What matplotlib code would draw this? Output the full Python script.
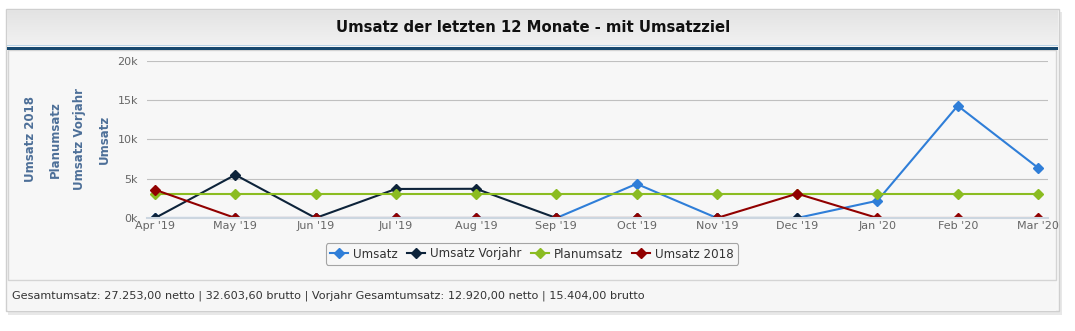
import numpy as np
import matplotlib
matplotlib.use('Agg')
import matplotlib.pyplot as plt
from matplotlib.patches import Rectangle
from matplotlib.lines import Line2D

# data
months = ["Apr '19", "May '19", "Jun '19", "Jul '19", "Aug '19", "Sep '19",
          "Oct '19", "Nov '19", "Dec '19", "Jan '20", "Feb '20", "Mar '20"]
umsatz = [0, 0, 0, 0, 0, 0, 4350, 0, 0, 2200, 14300, 6400]
umsatz_vorjahr = [0, 5500, 0, 3700, 3720, 0, 0, 0, 0, np.nan, np.nan, np.nan]
planumsatz = [3100] * 12
umsatz_2018 = [3600, 0, 0, 0, 0, 0, 0, 0, 3100, 0, 0, 0]
y_ticks = [0, 5000, 10000, 15000, 20000]
y_ticklabels = ['0k', '5k', '10k', '15k', '20k']

title = 'Umsatz der letzten 12 Monate - mit Umsatzziel'
footer = ('Gesamtumsatz: 27.253,00 netto | 32.603,60 brutto | '
          'Vorjahr Gesamtumsatz: 12.920,00 netto | 15.404,00 brutto')

series = [
    ('Umsatz', umsatz, '#2f7ed8'),
    ('Umsatz Vorjahr', umsatz_vorjahr, '#0d233a'),
    ('Planumsatz', planumsatz, '#8bbc21'),
    ('Umsatz 2018', umsatz_2018, '#910000'),
]

W, H = 1075, 331
fig = plt.figure(figsize=(W / 100, H / 100), dpi=100, facecolor='white')


def box(x0, y0, x1, y1):
    # pixel box (top-left origin) -> figure fraction [l, b, w, h]
    return [x0 / W, 1 - y1 / H, (x1 - x0) / W, (y1 - y0) / H]


def rect(x0, y0, x1, y1, **kw):
    l, b, w, h = box(x0, y0, x1, y1)
    fig.patches.append(Rectangle((l, b), w, h, transform=fig.transFigure, **kw))


# panel frame + shadow
rect(8, 12, 1062, 315, facecolor='#e8e8e8', edgecolor='none', zorder=0)
rect(6, 9, 1059, 311, facecolor='#f7f7f7', edgecolor='#cfcfcf', lw=1, zorder=1)

# title bar gradient
tax = fig.add_axes(box(7, 10, 1058, 45), zorder=2)
grad = np.linspace(0, 1, 50).reshape(-1, 1)
tax.imshow(grad, aspect='auto', cmap=matplotlib.colors.LinearSegmentedColormap.from_list(
    'g', ['#e3e3e3', '#f1f1f1']), extent=[0, 1, 0, 1], origin='upper')
tax.set_axis_off()
fig.text(533 / W, 1 - 28 / H, title, ha='center', va='center',
         fontsize=10.7, fontweight='bold', color='#111111', zorder=5)
rect(7, 45, 1058, 46, facecolor='#b8d2e6', edgecolor='none', zorder=3)
rect(7, 46.5, 1058, 50, facecolor='#17486e', edgecolor='none', zorder=3)

# chart area + footer
rect(8, 50, 1056, 280, facecolor='#f7f7f7', edgecolor='#d4d4d4', lw=1, zorder=2)
rect(8, 282, 1056, 311, facecolor='#f6f6f6', edgecolor='none', zorder=2)
fig.text(12 / W, 1 - 296 / H, footer, ha='left', va='center',
         fontsize=8.1, color='#333333', zorder=5)

# main plot
ax = fig.add_axes(box(147, 61, 1048, 218), zorder=4)
ax.set_facecolor('none')
x = np.arange(len(months))
for name, vals, col in series:
    ax.plot(x, vals, color=col, lw=1.5, marker='D', ms=4.8, mec=col, mfc=col,
            label=name, zorder=3)

ax.set_xlim(-0.1, 11.125)
ax.set_ylim(0, 20000)
ax.set_yticks(y_ticks)
ax.set_yticklabels(y_ticklabels)
ax.set_xticks(x)
ax.set_xticklabels(months)
ax.tick_params(axis='both', length=0, labelsize=8, labelcolor='#666666')
ax.tick_params(axis='y', pad=6.5)
ax.tick_params(axis='x', pad=2.5)
for yv in y_ticks[1:]:
    ax.axhline(yv, color='#c0c0c0', lw=0.8, zorder=1)
for s in ['top', 'right', 'left']:
    ax.spines[s].set_visible(False)
ax.spines['bottom'].set_color('#ccd6e0')
ax.spines['bottom'].set_linewidth(1.5)
ax.spines['bottom'].set_zorder(5)

# stacked y axis titles
for name, xp in [('Umsatz 2018', 30), ('Planumsatz', 55), ('Umsatz Vorjahr', 80), ('Umsatz', 104)]:
    fig.text(xp / W, 1 - 139.5 / H, name, rotation=90, ha='center', va='center',
             fontsize=8.5, fontweight='bold', color='#4d6f98', zorder=5)

# legend
handles = [Line2D([], [], color=c, lw=1.5, marker='D', ms=4.8) for _, _, c in series]
leg = fig.legend(handles, [s[0] for s in series], loc='center',
                 bbox_to_anchor=(532 / W, 1 - 254 / H), ncol=4, fontsize=8.6,
                 frameon=True, fancybox=True, handlelength=1.5, handletextpad=0.4,
                 columnspacing=0.8, borderpad=0.35)
leg.get_frame().set_edgecolor('#909090')
leg.get_frame().set_facecolor('#f7f7f7')
leg.get_frame().set_linewidth(0.8)
leg.set_zorder(6)
for t in leg.get_texts():
    t.set_color('#333333')

fig.savefig('out.png', dpi=100, facecolor='white')
